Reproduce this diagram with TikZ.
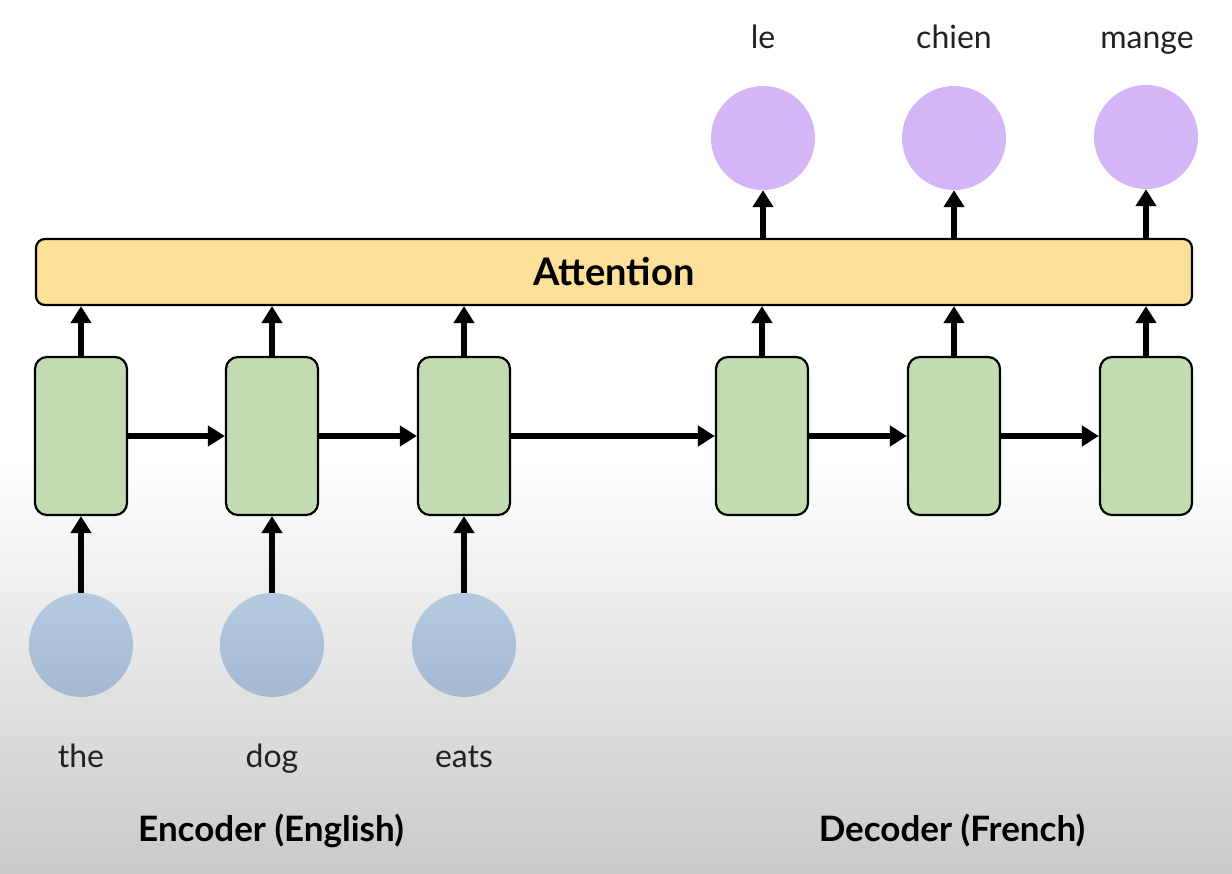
\documentclass[tikz,border=0pt]{standalone}
\usepackage{fontspec}
\setmainfont{Lato}
\usetikzlibrary{arrows.meta}
\definecolor{attnfill}{HTML}{FCDF98}
\definecolor{cellfill}{HTML}{C3DBB1}
\definecolor{intop}{HTML}{B3CAE1}
\definecolor{inbot}{HTML}{A4B9D1}
\definecolor{outfill}{HTML}{D4B5F5}
\definecolor{wordink}{HTML}{222222}
\begin{document}
\begin{tikzpicture}[x=1pt,y=-1pt,
  cellbox/.style={draw=black,line width=2.2pt,fill=cellfill,rounded corners=12pt,
    minimum width=92pt,minimum height=158pt,inner sep=0pt},
  attnbox/.style={draw=black,line width=2.2pt,fill=attnfill,rounded corners=9pt,
    minimum width=1156pt,minimum height=66pt,inner sep=0pt,
    font=\fontsize{38}{44}\selectfont\bfseries},
  inword/.style={circle,minimum size=104pt,inner sep=0pt,top color=intop,bottom color=inbot},
  outword/.style={circle,minimum size=104pt,inner sep=0pt,fill=outfill},
  flow/.style={line width=5.5pt,-{Triangle[width=20pt,length=17pt]}},
  word/.style={anchor=base,text=wordink,font=\fontsize{32}{38}\selectfont},
  caption/.style={anchor=base,text=black,font=\fontsize{35}{42}\selectfont\bfseries},
]
\useasboundingbox (0,0) rectangle (1232,874);
% background: white fading to grey towards the bottom
\fill[white] (0,0) rectangle (1232,874);
\shade[top color=white,bottom color=black!21] (0,460) rectangle (1232,874);

% attention layer
\node[attnbox] (attn) at (614,272) {Attention};

% encoder and decoder cells
\node[cellbox] (e1) at (81,436) {};
\node[cellbox] (e2) at (272,436) {};
\node[cellbox] (e3) at (464,436) {};
\node[cellbox] (d1) at (762,436) {};
\node[cellbox] (d2) at (954,436) {};
\node[cellbox] (d3) at (1146,436) {};

% input tokens
\node[inword] (x1) at (81,645) {};
\node[inword] (x2) at (272,645) {};
\node[inword] (x3) at (464,645) {};

% output tokens
\node[outword] (y1) at (763,138) {};
\node[outword] (y2) at (954,138) {};
\node[outword] (y3) at (1146,137) {};

% words
\node[word] (tthe) at (81,767) {the};
\node[word] (tdog) at (272,767) {dog};
\node[word] (teats) at (464,767) {eats};
\node[word] (tle) at (763,49) {le};
\node[word] (tchien) at (954,49) {chien};
\node[word] (tmange) at (1147,49) {mange};

\node[caption] (enc) at (271,841) {Encoder (English)};
\node[caption] (dec) at (952,841) {Decoder (French)};

% recurrent connections
\draw[flow] (e1.east) -- (e2.west);
\draw[flow] (e2.east) -- (e3.west);
\draw[flow] (e3.east) -- (d1.west);
\draw[flow] (d1.east) -- (d2.west);
\draw[flow] (d2.east) -- (d3.west);

% inputs into encoder cells
\foreach \i in {1,2,3} {
  \draw[flow] (x\i.north) -- (x\i.north |- e\i.south);
}
% cells into attention
\foreach \c in {e1,e2,e3,d1,d2,d3} {
  \draw[flow] (\c.north) -- (\c.north |- attn.south);
}
% attention into outputs
\foreach \i in {1,2,3} {
  \draw[flow] (y\i.south |- attn.north) -- (y\i.south);
}
\end{tikzpicture}
\end{document}
